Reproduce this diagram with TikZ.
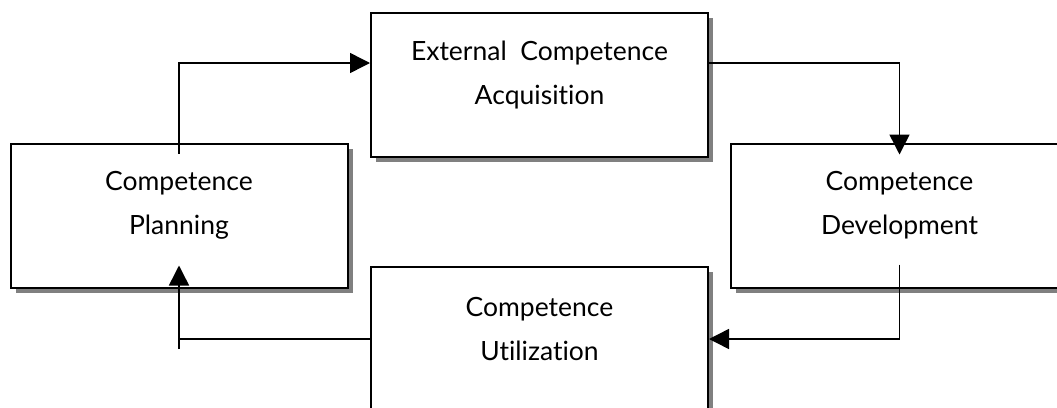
\documentclass[tikz,border=0pt]{standalone}
\usepackage{fontspec}
\setmainfont{Lato}[Ligatures={NoCommon}]
\usetikzlibrary{arrows.meta,shadows}
\begin{document}
\begin{tikzpicture}[x=1pt,y=-1pt,>={Triangle[length=20pt,width=20pt]},
  box/.style={draw,line width=2pt,fill=white,minimum width=337pt,minimum height=144pt,
    drop shadow={shadow xshift=5pt,shadow yshift=-5pt,fill=gray,opacity=1}},
  txt/.style={align=center,font=\fontsize{26.5}{44}\selectfont,yshift=10pt},
  link/.style={line width=1.5pt}]
\useasboundingbox (0,0) rectangle (1057,407);
\node[box,label={[txt]center:Competence\\Planning}] (plan) at (179,215.5) {};
\node[box,label={[txt]center:External~~Competence\\Acquisition}] (acq) at (539.5,85) {};
\node[box,label={[txt]center:Competence\\Development}] (dev) at (899.5,215.5) {};
\node[box,label={[txt]center:Competence\\Utilization}] (util) at (539.5,339) {};

\draw[link,->]([yshift=-11pt]plan.north)|-([yshift=22pt]acq.west);
\draw[link,->]([yshift=22pt]acq.east)-|([yshift=-12pt]dev.north);
\draw[link,->]([yshift=24pt]dev.south)|-(util.east);
\draw[link](util.west)--(plan.south|-util.west);
\draw[link,->]([yshift=-10pt]plan.south|-util.west)--([yshift=23pt]plan.south);
\end{tikzpicture}
\end{document}
